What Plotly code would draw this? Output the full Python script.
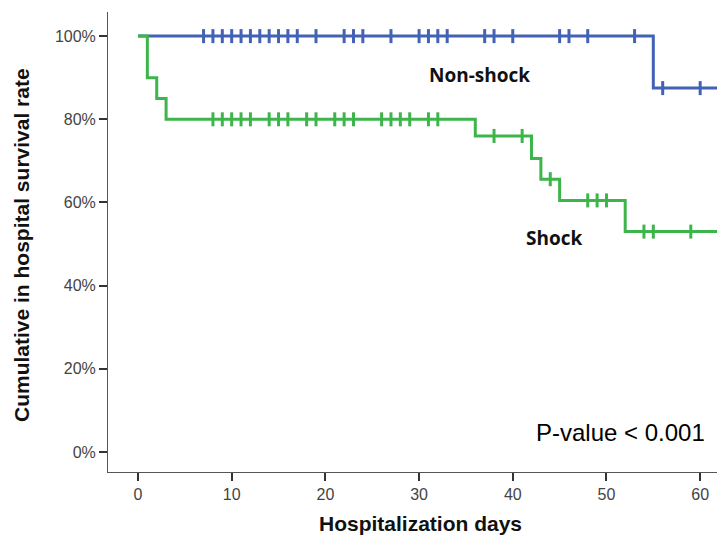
import plotly.graph_objects as go

# Kaplan-Meier data
nonshock_event_days = [0, 55]
nonshock_survival = [100, 87.5]
nonshock_censor_days = [7, 8, 9, 10, 11, 12, 13, 14, 15, 16, 17, 19, 22, 23, 24, 27,
                        30, 31, 32, 33, 37, 38, 40, 45, 46, 48, 53, 56, 60, 62]
nonshock_end_day = 63

shock_event_days = [0, 1, 2, 3, 36, 42, 43, 45, 52]
shock_survival = [100, 90, 85, 80, 76, 70.6, 65.6, 60.5, 53]
shock_censor_days = [8, 9, 10, 11, 12, 14, 15, 16, 18, 19, 21, 22, 23, 26, 27, 28, 29,
                     31, 32, 38, 41, 44, 48, 49, 50, 54, 55, 59]
shock_end_day = 63

x_ticks = [0, 10, 20, 30, 40, 50, 60]
y_ticks = [0, 20, 40, 60, 80, 100]
y_tick_labels = ["0%", "20%", "40%", "60%", "80%", "100%"]

BLUE = "#4262B6"
GREEN = "#3DB54A"


def surv_at(t, ev_days, surv):
    s = surv[0]
    for d, v in zip(ev_days, surv):
        if d <= t:
            s = v
    return s


fig = go.Figure()


def add_series(ev_days, surv, cens, end_day, color):
    xs = list(ev_days) + [end_day]
    ys = list(surv) + [surv[-1]]
    fig.add_trace(go.Scatter(x=xs, y=ys, mode="lines", line=dict(color=color, width=3, shape="hv"),
                             showlegend=False, hoverinfo="skip"))
    fig.add_trace(go.Scatter(x=cens, y=[surv_at(t, ev_days, surv) for t in cens], mode="markers",
                             marker=dict(symbol="line-ns-open", size=10, color=color,
                                         line=dict(color=color, width=3)),
                             showlegend=False))


add_series(nonshock_event_days, nonshock_survival, nonshock_censor_days, nonshock_end_day, BLUE)
add_series(shock_event_days, shock_survival, shock_censor_days, shock_end_day, GREEN)

fig.add_annotation(x=36.5, y=90.6, text="<b>Non-shock</b>", showarrow=False,
                   font=dict(family="Open Sans", size=19, color="#111"))
fig.add_annotation(x=44.4, y=51.4, text="<b>Shock</b>", showarrow=False,
                   font=dict(family="Open Sans", size=19, color="#111"))
fig.add_annotation(x=51.5, y=4.8, text="P-value &lt; 0.001", showarrow=False,
                   font=dict(family="Liberation Sans", size=24, color="#000"))

# axis titles
fig.add_annotation(xref="paper", yref="paper", x=0, y=0.4935, xshift=-86, textangle=-90,
                   xanchor="center", yanchor="middle",
                   text="<b>Cumulative in hospital survival rate</b>", showarrow=False,
                   font=dict(family="Liberation Sans", size=21, color="#111"))
fig.add_annotation(xref="paper", yref="paper", x=0.5057, y=0, yshift=-51,
                   xanchor="center", yanchor="middle",
                   text="<b>Hospitalization days</b>", showarrow=False,
                   font=dict(family="Liberation Sans", size=21, color="#111"))

fig.update_layout(
    width=717, height=539,
    margin=dict(l=100, r=0, t=4, b=75),
    paper_bgcolor="white", plot_bgcolor="white",
    font=dict(family="Liberation Sans", color="#333"),
    xaxis=dict(range=[-3.2, 62.65], tickvals=x_ticks, ticks="outside", ticklen=8, tickwidth=1.5,
               tickcolor="#333", showline=True, linecolor="#555", linewidth=1, showgrid=False,
               zeroline=False, tickfont=dict(size=16, color="#444"), automargin=False),
    yaxis=dict(range=[-4.8, 105.8], tickvals=y_ticks, ticktext=y_tick_labels, ticks="outside", ticklen=8,
               tickwidth=1.5, tickcolor="#333", showline=True, linecolor="#555", linewidth=1,
               showgrid=False, zeroline=False, tickfont=dict(size=16, color="#444"), automargin=False),
)

fig.write_html("out.html")
